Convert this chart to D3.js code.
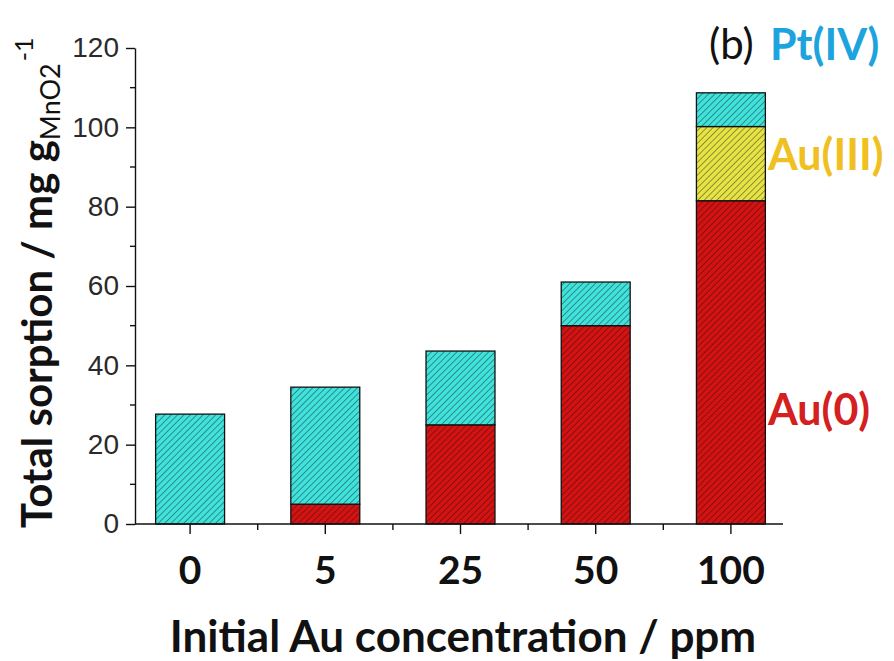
<!DOCTYPE html>
<html>
<head>
<meta charset="utf-8">
<script src="https://cdn.jsdelivr.net/npm/d3@7"></script>
<style>
  body { margin: 0; background: #fff; }
  svg { display: block; }
</style>
</head>
<body>
<div id="chart"></div>
<script>
// data (mg per g MnO2)
var categories = ["0", "5", "25", "50", "100"];
var au0 = [0, 5, 25, 50, 81.5];
var au3 = [0, 0, 0, 0, 18.7];
var pt4 = [27.7, 29.5, 18.6, 11.0, 8.5];
var yTicks = [0, 20, 40, 60, 80, 100, 120];
var yMinor = [10, 30, 50, 70, 90, 110];
var seriesKeys = ["au0", "au3", "pt4"];
var seriesNames = ["Au(0)", "Au(III)", "Pt(IV)"];

var width = 894, height = 661;
var calibri = "Lato, 'Open Sans', sans-serif";

var rows = categories.map(function(c, i) {
  return { cat: c, au0: au0[i], au3: au3[i], pt4: pt4[i] };
});

var svg = d3.select("#chart").append("svg")
  .attr("width", width)
  .attr("height", height);

var fills = { au0: "#d41212", au3: "#e6e445", pt4: "#40e2dc" };

// hatch patterns, one per series
var defs = svg.append("defs");
seriesKeys.forEach(function(k) {
  var p = defs.append("pattern")
    .attr("id", "hatch-" + k)
    .attr("patternUnits", "userSpaceOnUse")
    .attr("width", 4.5)
    .attr("height", 4.5)
    .attr("patternTransform", "rotate(45)");
  p.append("rect").attr("width", 4.5).attr("height", 4.5).attr("fill", fills[k]);
  p.append("line")
    .attr("x1", 0).attr("y1", 0).attr("x2", 0).attr("y2", 4.5)
    .attr("stroke", "#111")
    .attr("stroke-width", 1)
    .attr("stroke-opacity", 0.8);
});

var x = d3.scaleBand()
  .domain(categories)
  .range([122.5, 798.5])
  .paddingInner(0.49)
  .paddingOuter(0.245);

var y = d3.scaleLinear()
  .domain([0, 120])
  .range([524, 48]);

var stack = d3.stack().keys(seriesKeys);
var layers = stack(rows);

var bars = svg.append("g").attr("class", "bars");
bars.selectAll("g.layer")
  .data(layers).enter()
  .append("g")
  .attr("class", "layer")
  .each(function(layer) {
    d3.select(this).selectAll("rect")
      .data(layer.filter(function(d) { return d[1] - d[0] > 0; }))
      .enter().append("rect")
      .attr("x", function(d) { return x(d.data.cat); })
      .attr("width", x.bandwidth())
      .attr("y", function(d) { return y(d[1]); })
      .attr("height", function(d) { return y(d[0]) - y(d[1]); })
      .attr("fill", "url(#hatch-" + layer.key + ")")
      .attr("stroke", "#111")
      .attr("stroke-width", 1.3);
  });

// y axis
var yAxis = svg.append("g")
  .attr("class", "axis y")
  .attr("transform", "translate(135,0)")
  .call(d3.axisLeft(y).tickValues(yTicks).tickSize(9).tickPadding(7).tickSizeOuter(0));
yAxis.selectAll("text")
  .attr("font-family", "'Liberation Sans', Arial, sans-serif")
  .attr("font-size", 28)
  .attr("fill", "#2a2a2a");
yAxis.selectAll("line, path").attr("stroke", "#111").attr("stroke-width", 1.4);
yAxis.selectAll(".minor")
  .data(yMinor).enter()
  .append("line")
  .attr("class", "minor")
  .attr("x1", -5).attr("x2", 0)
  .attr("y1", function(d) { return y(d); })
  .attr("y2", function(d) { return y(d); })
  .attr("stroke", "#111")
  .attr("stroke-width", 1.4);

// x axis
var xAxis = svg.append("g")
  .attr("class", "axis x")
  .attr("transform", "translate(0,524)")
  .call(d3.axisBottom(x).tickSize(10).tickPadding(22).tickSizeOuter(0));
xAxis.select(".domain").remove();
xAxis.append("line")
  .attr("x1", 135).attr("x2", 783)
  .attr("stroke", "#111").attr("stroke-width", 1.4);
xAxis.selectAll(".tick line").attr("stroke", "#111").attr("stroke-width", 1.4);
xAxis.selectAll(".tick text")
  .attr("font-family", calibri)
  .attr("font-weight", "bold")
  .attr("font-size", 39)
  .attr("fill", "#111");
var mids = categories.slice(0, -1).map(function(c) {
  return x(c) + x.bandwidth() / 2 + x.step() / 2;
});
xAxis.selectAll(".minor")
  .data(mids).enter()
  .append("line")
  .attr("class", "minor")
  .attr("x1", function(d) { return d; })
  .attr("x2", function(d) { return d; })
  .attr("y1", 0).attr("y2", 6)
  .attr("stroke", "#111")
  .attr("stroke-width", 1.4);

// axis titles
svg.append("text")
  .attr("x", 463)
  .attr("y", 652)
  .attr("text-anchor", "middle")
  .attr("font-family", calibri)
  .attr("font-weight", "bold")
  .attr("font-size", 44)
  .attr("fill", "#111")
  .text("Initial Au concentration / ppm");

var yt = svg.append("text")
  .attr("transform", "translate(52,528) rotate(-90)")
  .attr("font-family", calibri)
  .attr("font-weight", "bold")
  .attr("font-size", 42)
  .attr("fill", "#111");
yt.append("tspan").text("Total sorption / mg g");
yt.append("tspan")
  .attr("font-size", 27)
  .attr("font-weight", "normal")
  .attr("dy", 8)
  .text("MnO2");
yt.append("tspan")
  .attr("font-size", 25)
  .attr("font-weight", "normal")
  .attr("dy", -27)
  .attr("dx", 2)
  .text("-1");

// panel label and series labels
svg.append("text")
  .attr("x", 709).attr("y", 59)
  .attr("font-family", calibri)
  .attr("font-size", 42)
  .attr("fill", "#111")
  .text("(b)");

var labelPos = {
  pt4: { x: 770, y: 60, color: "#1da3dd" },
  au3: { x: 768, y: 170, color: "#f0c020" },
  au0: { x: 768, y: 425, color: "#d42020" }
};
seriesKeys.forEach(function(k, i) {
  svg.append("text")
    .attr("x", labelPos[k].x)
    .attr("y", labelPos[k].y)
    .attr("font-family", calibri)
    .attr("font-weight", "bold")
    .attr("font-size", 43)
    .attr("fill", labelPos[k].color)
    .text(seriesNames[i]);
});
</script>
</body>
</html>
